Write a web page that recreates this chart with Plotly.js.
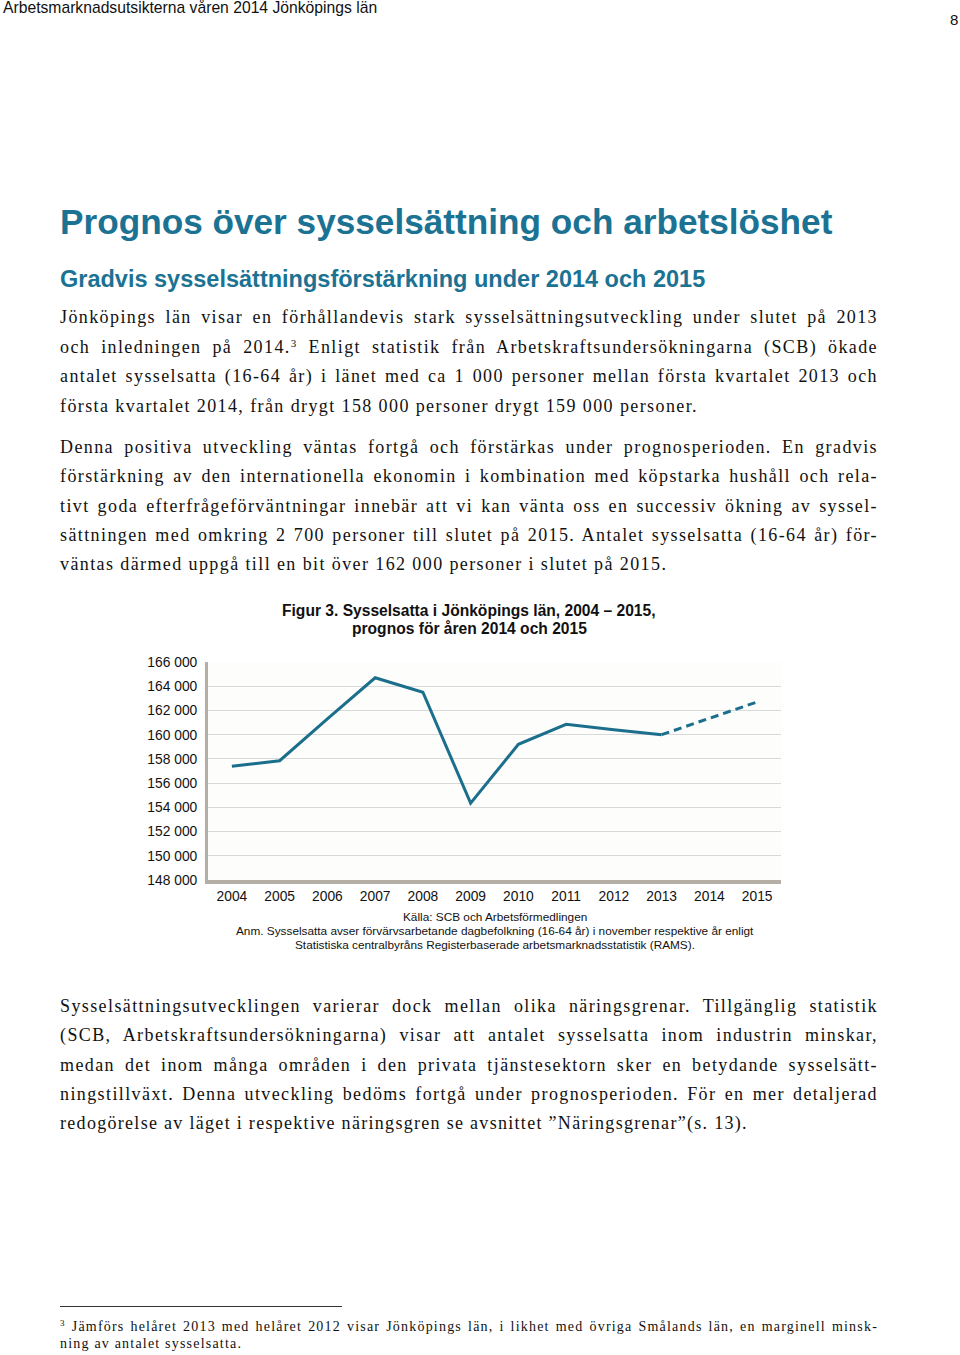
<!DOCTYPE html>
<html><head><meta charset="utf-8">
<script src="https://cdn.plot.ly/plotly-3.0.1.min.js"></script>
<style>
html,body{margin:0;padding:0;background:#fff;}
body{width:960px;height:1355px;position:relative;overflow:hidden;}
.hdr{position:absolute;font-family:"Liberation Sans",Arial,sans-serif;color:#111;}
.h1{position:absolute;left:60px;font-family:"Liberation Sans",Arial,sans-serif;font-weight:bold;color:#1b7293;white-space:nowrap;}
.ln{position:absolute;left:60px;width:818px;font-family:"Liberation Serif","Times New Roman",serif;font-size:18px;letter-spacing:1.4px;color:#111;white-space:nowrap;line-height:22px;height:22px;}
.j{text-align:justify;text-align-last:justify;white-space:normal;}
sup{font-size:11px;vertical-align:6px;line-height:0;}
.fn{position:absolute;left:60px;width:818px;font-family:"Liberation Serif","Times New Roman",serif;font-size:14px;letter-spacing:1.2px;color:#111;line-height:18px;height:18px;white-space:nowrap;}
#chart{position:absolute;left:0;top:595px;width:960px;height:365px;}
</style></head>
<body>
<div class="hdr" style="left:3px;top:-1px;font-size:15.7px;">Arbetsmarknadsutsikterna våren 2014 Jönköpings län</div>
<div class="hdr" style="left:950px;top:11px;font-size:15px;">8</div>
<div class="h1" style="top:202px;font-size:35.2px;">Prognos över sysselsättning och arbetslöshet</div>
<div class="h1" style="top:266px;font-size:23.5px;">Gradvis sysselsättningsförstärkning under 2014 och 2015</div>

<div class="ln j" style="top:306px;">Jönköpings län visar en förhållandevis stark sysselsättningsutveckling under slutet på 2013</div>
<div class="ln j" style="top:336px;">och inledningen på 2014.<sup>3</sup> Enligt statistik från Arbetskraftsundersökningarna (SCB) ökade</div>
<div class="ln j" style="top:365px;">antalet sysselsatta (16-64 år) i länet med ca 1 000 personer mellan första kvartalet 2013 och</div>
<div class="ln" style="top:395px;">första kvartalet 2014, från drygt 158 000 personer drygt 159 000 personer.</div>

<div class="ln j" style="top:436px;">Denna positiva utveckling väntas fortgå och förstärkas under prognosperioden. En gradvis</div>
<div class="ln j" style="top:465px;">förstärkning av den internationella ekonomin i kombination med köpstarka hushåll och rela-</div>
<div class="ln j" style="top:495px;">tivt goda efterfrågeförväntningar innebär att vi kan vänta oss en successiv ökning av syssel-</div>
<div class="ln j" style="top:524px;">sättningen med omkring 2 700 personer till slutet på 2015. Antalet sysselsatta (16-64 år) för-</div>
<div class="ln" style="top:553px;">väntas därmed uppgå till en bit över 162 000 personer i slutet på 2015.</div>

<div id="chart"></div>

<div class="ln j" style="top:995px;">Sysselsättningsutvecklingen varierar dock mellan olika näringsgrenar. Tillgänglig statistik</div>
<div class="ln j" style="top:1024px;">(SCB, Arbetskraftsundersökningarna) visar att antalet sysselsatta inom industrin minskar,</div>
<div class="ln j" style="top:1054px;">medan det inom många områden i den privata tjänstesektorn sker en betydande sysselsätt-</div>
<div class="ln j" style="top:1083px;">ningstillväxt. Denna utveckling bedöms fortgå under prognosperioden. För en mer detaljerad</div>
<div class="ln" style="top:1112px;letter-spacing:1.3px;">redogörelse av läget i respektive näringsgren se avsnittet ”Näringsgrenar”(s. 13).</div>

<div style="position:absolute;left:60px;top:1306px;width:282px;height:1px;background:#333;"></div>
<div class="fn j" style="top:1318px;"><sup style="font-size:9px;vertical-align:5px;">3</sup> Jämförs helåret 2013 med helåret 2012 visar Jönköpings län, i likhet med övriga Smålands län, en marginell minsk-</div>
<div class="fn" style="top:1335px;">ning av antalet sysselsatta.</div>

<script>
var years = ['2004','2005','2006','2007','2008','2009','2010','2011','2012','2013','2014','2015'];
var sysselsattaUtfall = [157400,157850,161300,164700,163500,154350,159200,160850,160400,160000,null,null];
var sysselsattaPrognos = [null,null,null,null,null,null,null,null,null,160000,161350,162700];
var yTicks = [148000,150000,152000,154000,156000,158000,160000,162000,164000,166000];
var yTickText = ['148 000','150 000','152 000','154 000','156 000','158 000','160 000','162 000','164 000','166 000'];
var titleLines = ['Figur 3. Sysselsatta i Jönköpings län, 2004 – 2015,', 'prognos för åren 2014 och 2015'];
var noteLines = ['Källa: SCB och Arbetsförmedlingen',
  'Anm. Sysselsatta avser förvärvsarbetande dagbefolkning (16-64 år) i november respektive år enligt',
  'Statistiska centralbyråns Registerbaserade arbetsmarknadsstatistik (RAMS).'];

var lineColor = '#1b6f8c';
var traces = [
  {x: years, y: sysselsattaUtfall, type:'scatter', mode:'lines', line:{color:lineColor, width:3}, connectgaps:false, hoverinfo:'skip'},
  {x: years, y: sysselsattaPrognos, type:'scatter', mode:'lines', line:{color:lineColor, width:3, dash:'8px,5px'}, connectgaps:false, hoverinfo:'skip'}
];
var plotH = 218, plotW = 573;
var annotations = noteLines.map(function(t,i){
  return {text:t, xref:'paper', yref:'paper', x:(495-208)/plotW, y:-(37+i*14)/plotH, xanchor:'center', yanchor:'middle',
    showarrow:false, font:{family:'Liberation Sans, Arial, sans-serif', size:11.8, color:'#111'}};
});
titleLines.forEach(function(t,i){
  annotations.push({text:'<b>'+t+'</b>', xref:'paper', yref:'paper', x:(469-208)/plotW, y:1+(51-i*18)/plotH,
    xanchor:'center', yanchor:'middle', showarrow:false, font:{family:'Liberation Sans, Arial, sans-serif', size:15.6, color:'#111'}});
});
var layout = {
  width:960, height:365,
  margin:{l:208, r:179, t:67, b:80},
  paper_bgcolor:'rgba(0,0,0,0)', plot_bgcolor:'#fdfdfb',
  showlegend:false,
  xaxis:{type:'category', range:[-0.5,11.5], showgrid:false, zeroline:false, showline:true, linecolor:'#b4aea4', linewidth:4,
    ticks:'', tickfont:{family:'Liberation Sans, Arial, sans-serif', size:13.8, color:'#111'}, fixedrange:true},
  yaxis:{range:[148000,166000], tickvals:yTicks, ticktext:yTickText, showgrid:true, gridcolor:'#d9d9d9', gridwidth:1,
    zeroline:false, showline:true, linecolor:'#b4aea4', linewidth:3, ticks:'', ticklabelstandoff:5,
    tickfont:{family:'Liberation Sans, Arial, sans-serif', size:13.8, color:'#111'}, fixedrange:true},
  annotations: annotations
};
Plotly.newPlot('chart', traces, layout, {displayModeBar:false, staticPlot:true});
</script>
</body></html>
